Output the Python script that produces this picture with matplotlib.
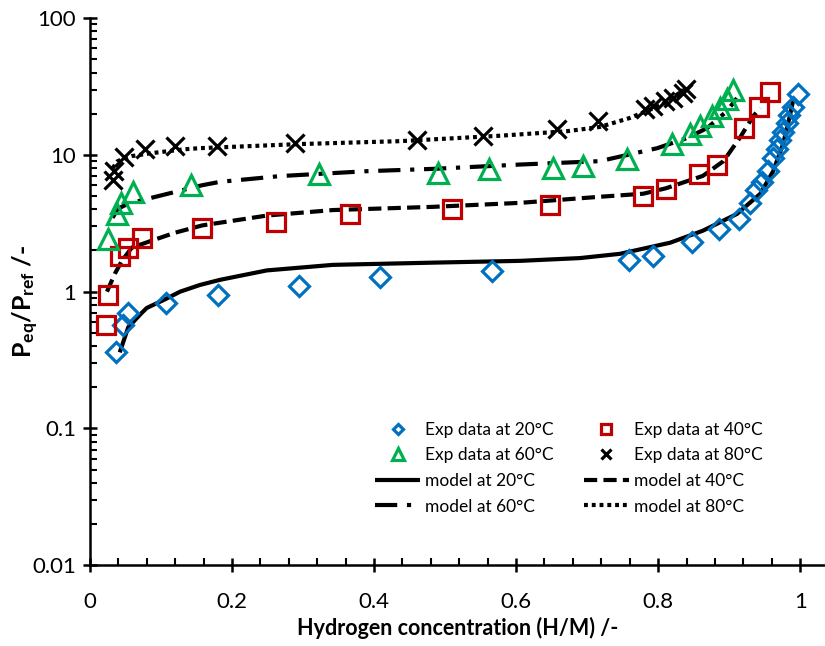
import matplotlib
matplotlib.use("Agg")
import matplotlib.pyplot as plt
from matplotlib.ticker import MultipleLocator, FixedLocator, FuncFormatter, NullFormatter

plt.rcParams['font.family'] = ['Lato', 'DejaVu Sans']
plt.rcParams['mathtext.fontset'] = 'custom'
plt.rcParams['mathtext.rm'] = 'Lato'
plt.rcParams['mathtext.bf'] = 'Lato:bold'
plt.rcParams['lines.scale_dashes'] = False

# experimental data (H/M, Peq/Pref)
x_20 = [0.037, 0.047, 0.054, 0.107, 0.180, 0.294, 0.408, 0.566, 0.759, 0.793, 0.848, 0.886,
        0.914, 0.930, 0.938, 0.946, 0.955, 0.962, 0.967, 0.972, 0.976, 0.981, 0.985, 0.990, 0.997]
y_20 = [0.36, 0.57, 0.70, 0.83, 0.95, 1.10, 1.27, 1.42, 1.71, 1.83, 2.32, 2.88,
        3.41, 4.47, 5.5, 6.3, 7.6, 9.5, 11.0, 12.8, 14.8, 17.0, 19.5, 22.5, 27.8]

x_40 = [0.023, 0.025, 0.042, 0.054, 0.073, 0.158, 0.262, 0.366, 0.510, 0.648,
        0.779, 0.811, 0.858, 0.883, 0.921, 0.942, 0.958]
y_40 = [0.575, 0.95, 1.83, 2.09, 2.48, 2.93, 3.24, 3.71, 4.03, 4.32,
        5.02, 5.65, 7.26, 8.45, 15.7, 22.4, 28.8]

x_60 = [0.025, 0.038, 0.044, 0.061, 0.142, 0.323, 0.490, 0.562, 0.652, 0.694,
        0.756, 0.820, 0.845, 0.859, 0.876, 0.887, 0.897, 0.906]
y_60 = [2.44, 3.71, 4.46, 5.37, 6.04, 7.26, 7.37, 7.9, 8.05, 8.3,
        9.36, 12.0, 14.2, 16.3, 19.2, 22.0, 25.7, 30.0]

x_80 = [0.032, 0.034, 0.048, 0.077, 0.120, 0.179, 0.289, 0.460, 0.553, 0.658,
        0.715, 0.782, 0.793, 0.810, 0.821, 0.835, 0.839]
y_80 = [6.58, 7.6, 9.67, 11.0, 11.6, 11.6, 12.2, 12.9, 13.8, 15.5,
        17.7, 21.6, 22.7, 24.8, 26.0, 28.3, 30.2]

# model curves
mx_20 = [0.042, 0.054, 0.073, 0.080, 0.106, 0.127, 0.155, 0.183, 0.249, 0.342, 0.483,
         0.606, 0.690, 0.746, 0.817, 0.863, 0.911, 0.944, 0.962, 0.976, 0.986, 0.990]
my_20 = [0.36, 0.55, 0.70, 0.76, 0.88, 1.00, 1.12, 1.22, 1.43, 1.57, 1.63,
         1.68, 1.76, 1.89, 2.28, 2.79, 3.7, 5.2, 7.6, 12.0, 19.8, 24.8]

mx_40 = [0.024, 0.035, 0.045, 0.059, 0.087, 0.120, 0.158, 0.249, 0.342, 0.483,
         0.606, 0.718, 0.779, 0.811, 0.863, 0.892, 0.915, 0.934, 0.944]
my_40 = [1.0, 1.35, 1.68, 2.10, 2.36, 2.70, 3.05, 3.6, 3.95, 4.17,
         4.46, 4.94, 5.2, 5.7, 7.02, 9.0, 13.3, 19.2, 22.0]

mx_60 = [0.032, 0.039, 0.054, 0.087, 0.115, 0.158, 0.183, 0.268, 0.390, 0.483,
         0.606, 0.718, 0.799, 0.841, 0.869, 0.897, 0.911]
my_60 = [3.47, 4.03, 4.40, 4.86, 5.28, 6.0, 6.35, 7.0, 7.6, 7.9,
         8.5, 9.0, 11.2, 13.3, 15.7, 20.9, 26.0]

mx_80 = [0.032, 0.039, 0.059, 0.087, 0.134, 0.155, 0.296, 0.437, 0.577, 0.672,
         0.718, 0.760, 0.803, 0.841]
my_80 = [8.0, 9.0, 9.8, 10.3, 11.0, 11.2, 12.0, 12.6, 13.8, 14.9,
         16.0, 18.6, 23.0, 30.8]

x_ticks = [0, 0.2, 0.4, 0.6, 0.8, 1.0]
y_ticks = [0.01, 0.1, 1, 10, 100]

blue = '#0070C0'
red = '#C00000'
green = '#00B050'

fig = plt.figure(figsize=(8.25, 6.46), dpi=100)
ax = fig.add_axes([0.109, 0.125, 0.891, 0.847])

lw = 3.0
l20, = ax.plot(mx_20, my_20, color='black', lw=lw, solid_capstyle='butt', label='model at 20°C')
l40, = ax.plot(mx_40, my_40, color='black', lw=lw, dashes=(9.5, 4.5), label='model at 40°C')
l60, = ax.plot(mx_60, my_60, color='black', lw=lw, dashes=(16, 7, 3, 7), label='model at 60°C')
l80, = ax.plot(mx_80, my_80, color='black', lw=lw, dashes=(2.8, 2.8), label='model at 80°C')

p20, = ax.plot(x_20, y_20, ls='none', marker='D', ms=10, mfc='none', mec=blue, mew=2.3,
               label='Exp data at 20°C')
p40, = ax.plot(x_40, y_40, ls='none', marker='s', ms=13, mfc='none', mec=red, mew=2.3,
               label='Exp data at 40°C')
p60, = ax.plot(x_60, y_60, ls='none', marker='^', ms=15, mfc='none', mec=green, mew=2.3,
               label='Exp data at 60°C')
p80, = ax.plot(x_80, y_80, ls='none', marker='x', ms=13, mfc='none', mec='black', mew=2.3,
               label='Exp data at 80°C')

ax.set_yscale('log')
ax.set_xlim(0, 1.035)
ax.set_ylim(0.01, 100)

ax.spines['top'].set_visible(False)
ax.spines['right'].set_visible(False)
for s in ['left', 'bottom']:
    ax.spines[s].set_linewidth(1.8)

ax.xaxis.set_major_locator(FixedLocator(x_ticks))
ax.xaxis.set_minor_locator(MultipleLocator(0.04))
ax.xaxis.set_major_formatter(FuncFormatter(lambda v, p: f'{v:g}'))
ax.yaxis.set_major_locator(FixedLocator(y_ticks))
ax.yaxis.set_major_formatter(FuncFormatter(lambda v, p: f'{v:g}'))
ax.yaxis.set_minor_formatter(NullFormatter())

ax.tick_params(which='major', direction='inout', length=10, width=1.8, labelsize=16)
ax.tick_params(axis='x', which='major', pad=14)
ax.tick_params(axis='y', which='major', pad=5)
ax.tick_params(which='minor', direction='in', length=5, width=1.5)

ax.set_xlabel('Hydrogen concentration (H/M) /-', fontsize=15.5, fontweight='bold')
ax.xaxis.set_label_coords(0.5, -0.095)
ax.set_ylabel(r'$\mathbf{P_{eq}/P_{ref}}$ /-', fontsize=18, fontweight='bold')
ax.yaxis.set_label_coords(-0.066, 0.483)

handles = [p20, p60, l20, l60, p40, p80, l40, l80]
ax.legend(handles=handles, labels=[h.get_label() for h in handles], ncol=2,
          loc='upper left', bbox_to_anchor=(0.388, 0.262), frameon=False,
          fontsize=12.5, handlelength=2.6, handletextpad=0.3, columnspacing=1.7,
          labelspacing=0.55, borderpad=0, borderaxespad=0, markerscale=0.55)

fig.savefig('out.png', dpi=100)
